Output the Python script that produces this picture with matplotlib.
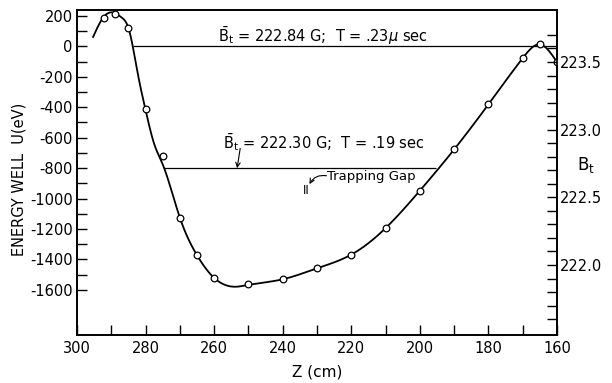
import numpy as np
import matplotlib
matplotlib.use("Agg")
import matplotlib.pyplot as plt
from matplotlib.ticker import FixedLocator, FuncFormatter

plt.rcParams['font.family'] = ['DejaVu Sans']
plt.rcParams['mathtext.fontset'] = 'dejavusans'

# ---- data ----
# measured points (circles)
z_pts = [292, 289, 285, 280, 275, 270, 265, 260, 250, 240, 230, 220, 210,
         200, 190, 180, 170, 165, 160]
u_pts = [187, 213, 121, -413, -722, -1125, -1368, -1521, -1563, -1528, -1456,
         -1368, -1194, -948, -677, -381, -77, 13, -103]
# points
curve_z = [295.3, 292.5, 289.3, 287, 285, 282.1, 280, 277.5, 275, 270, 265,
           260, 254, 250, 240, 230, 220, 210, 200, 190, 180, 170, 165, 160]
curve_u = [62, 185, 222, 190, 121, -199, -418, -640, -775, -1125, -1372,
           -1521, -1579, -1567, -1530, -1458, -1368, -1194, -948, -677, -381,
           -77, 13, -103]

level_hi = 0          # Bt = 222.84 G
level_hi_span = (283.8, 160)
level_lo = -800       # Bt = 222.30 G
level_lo_span = (274.6, 195.3)

x_ticks = list(range(160, 301, 10))
x_labels = [300, 280, 260, 240, 220, 200, 180, 160]
u_ticks = list(range(-1600, 201, 100))
u_labels = list(range(-1600, 201, 200))
b_ticks = [round(221.6 + 0.1 * i, 1) for i in range(22)]
b_labels = [222.0, 222.5, 223.0, 223.5]


def natural_spline(x, y, xs):
    x = np.asarray(x, float); y = np.asarray(y, float)
    n = len(x)
    h = np.diff(x)
    A = np.zeros((n, n)); r = np.zeros(n)
    A[0, 0] = A[-1, -1] = 1
    for i in range(1, n - 1):
        A[i, i - 1] = h[i - 1]
        A[i, i] = 2 * (h[i - 1] + h[i])
        A[i, i + 1] = h[i]
        r[i] = 3 * ((y[i + 1] - y[i]) / h[i] - (y[i] - y[i - 1]) / h[i - 1])
    c = np.linalg.solve(A, r)
    b = (y[1:] - y[:-1]) / h - h * (2 * c[:-1] + c[1:]) / 3
    d = (c[1:] - c[:-1]) / (3 * h)
    idx = np.clip(np.searchsorted(x, xs) - 1, 0, n - 2)
    dx = xs - x[idx]
    return y[idx] + b[idx] * dx + c[idx] * dx ** 2 + d[idx] * dx ** 3


fig = plt.figure(figsize=(6.12, 3.83), dpi=100)
ax = fig.add_axes([77 / 612, 48 / 383, 480 / 612, 325 / 383])

cz = np.array(curve_z)[::-1]
cu = np.array(curve_u)[::-1]
zs = np.linspace(cz[0], cz[-1], 800)
ax.plot(zs, natural_spline(cz, cu, zs), color='black', lw=1.3, zorder=2)
ax.plot(z_pts, u_pts, 'o', ms=4.8, mfc='white', mec='black', mew=0.9, zorder=3)

ax.hlines(level_hi, *level_hi_span, color='black', lw=0.9)
ax.hlines(level_lo, *level_lo_span, color='black', lw=0.9)

ax.set_xlim(300, 160)
ax.set_ylim(-1896, 239)

fs = 10.5
ax.xaxis.set_major_locator(FixedLocator(x_ticks))
ax.xaxis.set_major_formatter(FuncFormatter(lambda v, p: f"{int(round(v))}" if int(round(v)) in x_labels else ""))
ax.yaxis.set_major_locator(FixedLocator(u_ticks))
ax.yaxis.set_major_formatter(FuncFormatter(lambda v, p: f"{int(round(v))}" if int(round(v)) in u_labels else ""))
ax.tick_params(direction='in', length=7, width=1, labelsize=fs, pad=3)
ax.tick_params(axis='x', pad=4)
for s in ax.spines.values():
    s.set_linewidth(1.2)

ax2 = ax.twinx()
ax2.set_ylim(221.483, 223.884)
ax2.yaxis.set_major_locator(FixedLocator(b_ticks))
ax2.yaxis.set_major_formatter(FuncFormatter(lambda v, p: f"{v:.1f}" if round(v, 1) in b_labels else ""))
ax2.tick_params(direction='in', length=7, width=1, labelsize=fs, pad=2)
for s in ax2.spines.values():
    s.set_linewidth(1.2)

ax.set_ylabel("ENERGY WELL  U(eV)", fontsize=fs)
ax.yaxis.set_label_coords(-0.105, 0.48)
ax.set_xlabel("Z (cm)", fontsize=fs + 0.5)
ax.xaxis.set_label_coords(0.5, -0.09)
fig.text(586 / 612, 1 - 165 / 383, r"$\mathrm{B}_\mathrm{t}$", fontsize=fs + 1.5,
         ha='center', va='center')

ax.text(258.8, 70, r"$\bar{\mathrm{B}}_\mathrm{t}$ = 222.84 G;  T = .23$\mu$ sec",
        fontsize=fs, ha='left', va='center')
ax.text(257.5, -630, r"$\bar{\mathrm{B}}_\mathrm{t}$ = 222.30 G;  T = .19 sec",
        fontsize=fs, ha='left', va='center')
ax.annotate("", xy=(253.3, -800), xytext=(252.4, -670),
            arrowprops=dict(arrowstyle='->', lw=0.8, color='black',
                            shrinkA=0, shrinkB=0, mutation_scale=8))
ax.text(227.0, -855, "Trapping Gap", fontsize=fs - 1, ha='left', va='center')
ax.annotate("", xy=(232.2, -905), xytext=(227.2, -850),
            arrowprops=dict(arrowstyle='->', lw=0.8, color='black',
                            connectionstyle='arc3,rad=0.35',
                            shrinkA=0, shrinkB=0, mutation_scale=8))
ax.text(233.0, -950, "II", fontsize=fs - 2, ha='center', va='center')

fig.savefig("out.png", dpi=100)
